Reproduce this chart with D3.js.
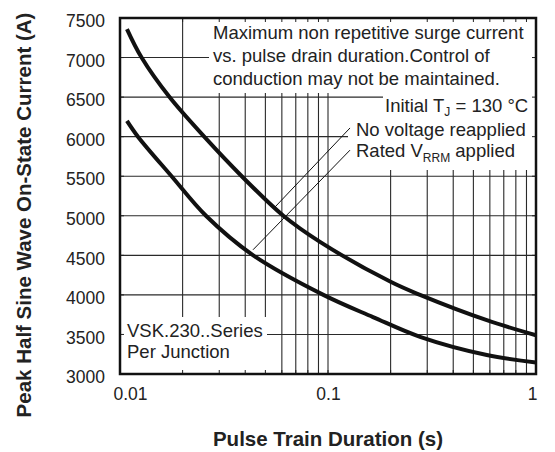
<!DOCTYPE html>
<html>
<head>
<meta charset="utf-8">
<script src="https://cdn.jsdelivr.net/npm/d3@7"></script>
<style>
  body { margin: 0; background: #fff; }
  svg { display: block; font-family: "Liberation Sans", Arial, Helvetica, sans-serif; }
</style>
</head>
<body>
<div id="chart"></div>
<script>
// surge current vs pulse train duration
const noVoltageT = [0.0108, 0.0127, 0.0173, 0.0254, 0.0385, 0.061, 0.0915, 0.2, 0.277, 0.58, 1];
const noVoltageA = [7360, 7000, 6500, 6000, 5500, 5000, 4670, 4165, 4000, 3680, 3490];

const ratedT = [0.0108, 0.0122, 0.0177, 0.0259, 0.0437, 0.095, 0.1645, 0.277, 0.58, 1];
const ratedA = [6200, 6000, 5500, 5000, 4500, 4000, 3720, 3470, 3240, 3145];

const yTicks = [3000, 3500, 4000, 4500, 5000, 5500, 6000, 6500, 7000, 7500];
const xTicks = [0.01, 0.1, 1];
const xTickLabels = ["0.01", "0.1", "1"];

// leader lines [t, A] start -> end
const leaders = [
  [[0.0556, 5110], [0.1276, 6110]],
  [[0.0436, 4570], [0.1276, 5830]]
];

const margin = { top: 18, right: 19, bottom: 78, left: 120 };
const width = 555 - margin.left - margin.right;
const height = 452 - margin.top - margin.bottom;

const svg = d3.select("#chart")
  .append("svg")
  .attr("width", 555)
  .attr("height", 452);

const g = svg.append("g")
  .attr("transform", `translate(${margin.left},${margin.top})`);

const x = d3.scaleLog().domain([0.01, 1]).range([0, width]);
const y = d3.scaleLinear().domain([3000, 7500]).range([height, 0]);

// grid positions 2..9 per decade
const gridT = [];
[0.01, 0.1].forEach(d => {
  for (let k = 2; k <= 10; k++) gridT.push(+(d * k).toPrecision(3));
});
gridT.pop();

const grid = g.append("g");
grid.selectAll(".vg")
  .data(gridT)
  .enter()
  .append("line")
  .attr("x1", d => x(d)).attr("x2", d => x(d))
  .attr("y1", 0).attr("y2", height)
  .attr("stroke", "#2a2a2a").attr("stroke-width", 1.1);

grid.selectAll(".hg")
  .data(yTicks.slice(1, -1))
  .enter()
  .append("line")
  .attr("x1", 0).attr("x2", width)
  .attr("y1", d => y(d)).attr("y2", d => y(d))
  .attr("stroke", "#2a2a2a").attr("stroke-width", 1.1);

// white backgrounds behind the notes
const masks = [
  [209 - margin.left, 0, width, 93 - margin.top],
  [383 - margin.left, 93 - margin.top, width, 118 - margin.top],
  [348 - margin.left, 118 - margin.top, width, 170 - margin.top],
  [0, 317 - margin.top, 267 - margin.left, height]
];
g.selectAll(".mask")
  .data(masks)
  .enter()
  .append("rect")
  .attr("x", d => d[0]).attr("y", d => d[1])
  .attr("width", d => d[2] - d[0]).attr("height", d => d[3] - d[1])
  .attr("fill", "#fff");

// small inner ticks on the frame
const tk = 4;
g.selectAll(".tt")
  .data(gridT)
  .enter()
  .append("path")
  .attr("d", d => `M${x(d)},0v${tk}M${x(d)},${height}v${-tk}`)
  .attr("stroke", "#222").attr("stroke-width", 1);
g.selectAll(".ty")
  .data(yTicks.slice(1, -1))
  .enter()
  .append("path")
  .attr("d", d => `M0,${y(d)}h${tk}M${width},${y(d)}h${-tk}`)
  .attr("stroke", "#222").attr("stroke-width", 1);

g.append("rect")
  .attr("width", width).attr("height", height)
  .attr("fill", "none").attr("stroke", "#111").attr("stroke-width", 2.5);

// curves
const line = d3.line()
  .x(d => x(d[0]))
  .y(d => y(d[1]))
  .curve(d3.curveCatmullRom.alpha(0.5));

g.append("path")
  .datum(noVoltageT.map((t, i) => [t, noVoltageA[i]]))
  .attr("d", line)
  .attr("fill", "none").attr("stroke", "#111").attr("stroke-width", 4);

g.append("path")
  .datum(ratedT.map((t, i) => [t, ratedA[i]]))
  .attr("d", line)
  .attr("fill", "none").attr("stroke", "#111").attr("stroke-width", 4);

g.selectAll(".leader")
  .data(leaders)
  .enter()
  .append("line")
  .attr("x1", d => x(d[0][0])).attr("y1", d => y(d[0][1]))
  .attr("x2", d => x(d[1][0])).attr("y2", d => y(d[1][1]))
  .attr("stroke", "#111").attr("stroke-width", 1);

// axes labels
const yAxis = d3.axisLeft(y).tickValues(yTicks).tickSize(0).tickPadding(15)
  .tickFormat(d3.format("d"));
const ya = g.append("g").call(yAxis);
ya.select(".domain").remove();
ya.selectAll("text")
  .attr("font-size", "17.5px").attr("font-family", "Liberation Sans, Arial, sans-serif")
  .attr("fill", "#222").attr("dy", "0.5em");

const xAxis = d3.axisBottom(x).tickValues(xTicks).tickSize(0).tickPadding(14)
  .tickFormat((d, i) => xTickLabels[i]);
const xa = g.append("g").attr("transform", `translate(0,${height})`).call(xAxis);
xa.select(".domain").remove();
xa.selectAll("text")
  .attr("font-size", "17.5px").attr("font-family", "Liberation Sans, Arial, sans-serif")
  .attr("fill", "#222")
  .attr("dx", (d, i) => i === 0 ? 10 : (i === 2 ? -4 : 0));

svg.append("text")
  .attr("x", margin.left + width / 2)
  .attr("y", 446)
  .attr("text-anchor", "middle")
  .attr("font-size", "20.5px").attr("font-weight", "bold").attr("fill", "#222")
  .text("Pulse Train Duration (s)");

svg.append("text")
  .attr("transform", `translate(31,${215}) rotate(-90)`)
  .attr("text-anchor", "middle")
  .attr("font-size", "20.5px").attr("font-weight", "bold").attr("fill", "#222")
  .text("Peak Half Sine Wave On-State Current (A)");

// notes
const note = svg.append("g").attr("font-size", "18.5px").attr("fill", "#222");
const noteLines = [
  "Maximum non repetitive surge current",
  "vs. pulse drain duration.Control of",
  "conduction may not be maintained."
];
note.selectAll(".nl")
  .data(noteLines)
  .enter()
  .append("text")
  .attr("x", 213)
  .attr("y", (d, i) => 39 + i * 23)
  .text(d => d);

const tj = note.append("text").attr("x", 385).attr("y", 112);
tj.append("tspan").text("Initial T");
tj.append("tspan").attr("font-size", "12px").attr("dy", 4).text("J");
tj.append("tspan").attr("dy", -4).text(" = 130 °C");

note.append("text").attr("x", 356).attr("y", 136).text("No voltage reapplied");

const rv = note.append("text").attr("x", 356).attr("y", 157);
rv.append("tspan").text("Rated V");
rv.append("tspan").attr("font-size", "12px").attr("dy", 5).text("RRM");
rv.append("tspan").attr("dy", -5).text(" applied");

note.append("text").attr("x", 127).attr("y", 337).text("VSK.230..Series");
note.append("text").attr("x", 127).attr("y", 358).text("Per Junction");
</script>
</body>
</html>
